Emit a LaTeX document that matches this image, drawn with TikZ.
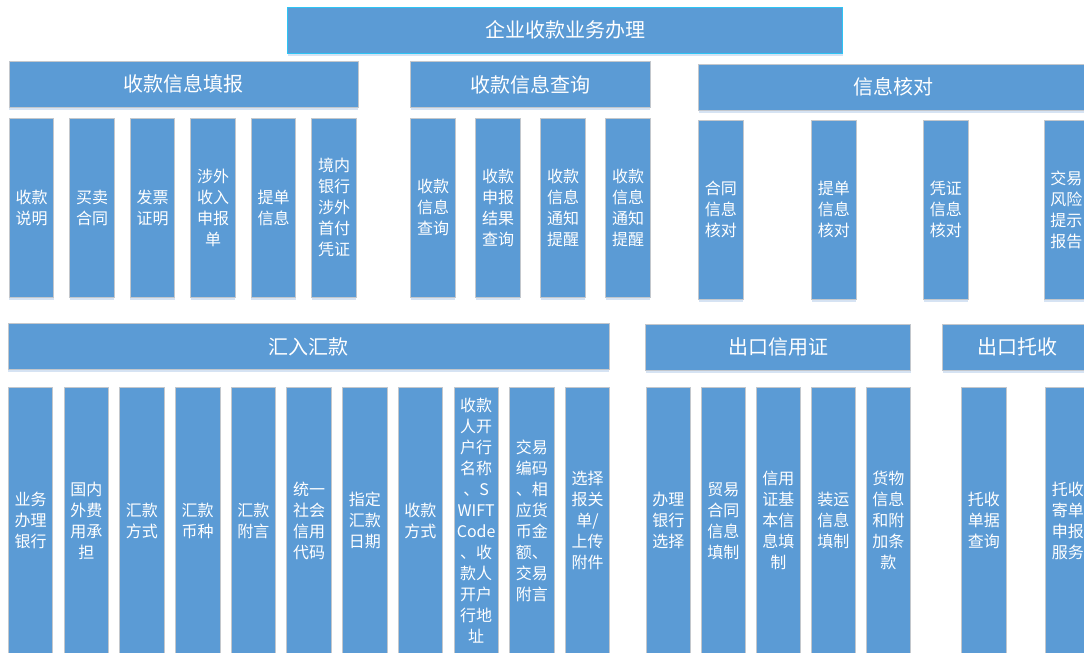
\documentclass[tikz,border=0pt]{standalone}
\usepackage{fontspec}
\newfontfamily\cjk{Noto Sans CJK SC}
\usetikzlibrary{positioning,shadows}

\definecolor{boxblue}{HTML}{5B9BD5}
\definecolor{shadeblue}{HTML}{D6E3F3}
\definecolor{edgegray}{HTML}{C3C7CC}
\definecolor{titleedge}{HTML}{2EC4F4}

\tikzstyle{boxshadow} = [drop shadow={shadow xshift=0pt, shadow yshift=-2.5pt, fill=shadeblue, opacity=1}]
\tikzstyle{title} = [rectangle, minimum width=555pt, minimum height=46pt, inner sep=0pt, outer sep=0pt, fill=boxblue, draw=titleedge, line width=1.2pt, text=white, font=\cjk\fontsize{20}{24}\selectfont, boxshadow]
\tikzstyle{cat} = [rectangle, minimum height=46pt, inner sep=0pt, outer sep=0pt, fill=boxblue, draw=edgegray, line width=0.8pt, text=white, font=\cjk\fontsize{20}{24}\selectfont, boxshadow]
\tikzstyle{leaf} = [rectangle, minimum width=44.5pt, minimum height=179pt, inner sep=0pt, outer sep=0pt, fill=boxblue, draw=edgegray, line width=0.8pt, text=white, align=center, font=\cjk\fontsize{16}{21}\selectfont, boxshadow]
\tikzstyle{leaflong} = [leaf, minimum height=267pt]

\begin{document}
\begin{tikzpicture}[x=1pt, y=-1pt]

		\useasboundingbox[fill=white] (0,0) rectangle (1084,653);

		\node (top) [title] at (565,30.3) {企业收款业务办理};

		\node (fill) [cat, minimum width=348.7pt] at (183.7,84) {收款信息填报};
		\node (query) [cat, minimum width=239.6pt] at (530.6,84.5) {收款信息查询};
		\node (check) [cat, minimum width=390.6pt] at (893.9,87) {信息核对};

		\node (fill1) [leaf, anchor=north west] at (9.3,118) {收款\\说明};
		\node (fill2) [leaf, right=16pt of fill1] {买卖\\合同};
		\node (fill3) [leaf, right=16pt of fill2] {发票\\证明};
		\node (fill4) [leaf, right=16pt of fill3] {涉外\\收入\\申报\\单};
		\node (fill5) [leaf, right=16pt of fill4] {提单\\信息};
		\node (fill6) [leaf, right=16pt of fill5] {境内\\银行\\涉外\\首付\\凭证};

		\node (query1) [leaf, anchor=north west] at (410.8,118) {收款\\信息\\查询};
		\node (query2) [leaf, right=20.5pt of query1] {收款\\申报\\结果\\查询};
		\node (query3) [leaf, right=20.5pt of query2] {收款\\信息\\通知\\提醒};
		\node (query4) [leaf, right=20.5pt of query3] {收款\\信息\\通知\\提醒};

		\node (check1) [leaf, anchor=north west] at (698.7,120) {合同\\信息\\核对};
		\node (check2) [leaf, right=68.5pt of check1] {提单\\信息\\核对};
		\node (check3) [leaf, right=67.5pt of check2] {凭证\\信息\\核对};
		\node (check4) [leaf, right=76pt of check3] {交易\\风险\\提示\\报告};

		\node (remit) [cat, minimum width=600.7pt] at (308.7,346.7) {汇入汇款};
		\node (lc) [cat, minimum width=265pt] at (778.2,347) {出口信用证};
		\node (coll) [cat, minimum width=149.6pt] at (1017.5,347) {出口托收};

		\node (remit1) [leaflong, anchor=north west] at (8.3,387) {业务\\办理\\银行};
		\node (remit2) [leaflong, right=11.2pt of remit1] {国内\\外费\\用承\\担};
		\node (remit3) [leaflong, right=11.2pt of remit2] {汇款\\方式};
		\node (remit4) [leaflong, right=11.2pt of remit3] {汇款\\币种};
		\node (remit5) [leaflong, right=11.2pt of remit4] {汇款\\附言};
		\node (remit6) [leaflong, right=11.2pt of remit5] {统一\\社会\\信用\\代码};
		\node (remit7) [leaflong, right=11.2pt of remit6] {指定\\汇款\\日期};
		\node (remit8) [leaflong, right=11.2pt of remit7] {收款\\方式};
		\node (remit9) [leaflong, right=11.2pt of remit8] {收款\\人开\\户行\\名称\\、S\\WIFT\\Code\\、收\\款人\\开户\\行地\\址};
		\node (remit10) [leaflong, right=11.2pt of remit9] {交易\\编码\\、相\\应货\\币金\\额、\\交易\\附言};
		\node (remit11) [leaflong, right=11.2pt of remit10] {选择\\报关\\单/\\上传\\附件};

		\node (lc1) [leaflong, anchor=north west] at (646,387) {办理\\银行\\选择};
		\node (lc2) [leaflong, right=10.5pt of lc1] {贸易\\合同\\信息\\填制};
		\node (lc3) [leaflong, right=10.5pt of lc2] {信用\\证基\\本信\\息填\\制};
		\node (lc4) [leaflong, right=10.5pt of lc3] {装运\\信息\\填制};
		\node (lc5) [leaflong, right=10.5pt of lc4] {货物\\信息\\和附\\加条\\款};

		\node (coll1) [leaflong, anchor=north west] at (961.7,387) {托收\\单据\\查询};
		\node (coll2) [leaflong, right=39.5pt of coll1] {托收\\寄单\\申报\\服务};
		\end{tikzpicture}
\end{document}
